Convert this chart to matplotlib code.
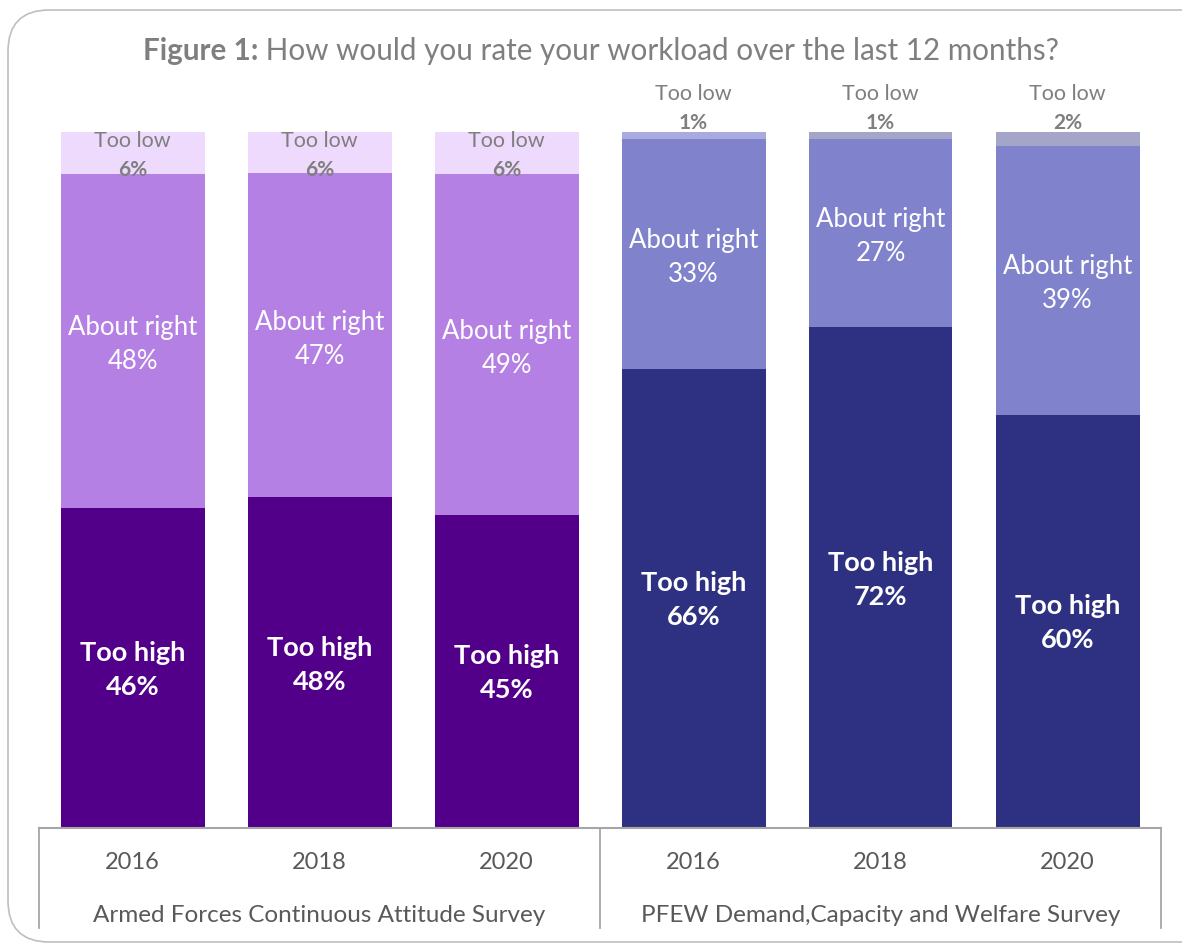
import numpy as np
import matplotlib
matplotlib.use('Agg')
import matplotlib.pyplot as plt
from matplotlib.patches import FancyBboxPatch
from matplotlib.lines import Line2D

plt.rcParams['font.family'] = ['Lato', 'DejaVu Sans']

#chart data
groups = ['Armed Forces Continuous Attitude Survey', 'PFEW Demand,Capacity and Welfare Survey']
years = ['2016', '2018', '2020', '2016', '2018', '2020']
too_high = [46, 48, 45, 66, 72, 60]
about_right = [48, 47, 49, 33, 27, 39]
too_low = [6, 6, 6, 1, 1, 2]

#colours per bar
high_col = ['#52008A'] * 3 + ['#2E3181'] * 3
about_col = ['#B580E3'] * 3 + ['#8083CC'] * 3
low_col = ['#EEDAFC'] * 3 + ['#A9ABE0', '#A5A5C8', '#A5A5C8']

gray = '#7F7F7F'
W, H = 1182, 951
fig = plt.figure(figsize=(W / 100, H / 100), dpi=100)

#rounded frame round the whole chart
frame = FancyBboxPatch((8 / W, 9 / H), 1.2, 932 / H, boxstyle='round,pad=0,rounding_size=0.035',
                       transform=fig.transFigure, fc='none', ec='#BFBFBF', lw=1.2, mutation_aspect=W / H)
fig.patches.append(frame)

ax = fig.add_axes([39 / W, 1 - 828 / H, 1122 / W, 696 / H])
ax.set_xlim(-0.5, 5.5)
ax.set_ylim(0, 100)
ax.axis('off')

#100% stacked bars
x = np.arange(len(years))
tot = np.array(too_high) + np.array(about_right) + np.array(too_low)
h = np.array(too_high) / tot * 100
a = np.array(about_right) / tot * 100
l = np.array(too_low) / tot * 100
bw = 144 / 187
ax.bar(x, h, bw, color=high_col)
ax.bar(x, a, bw, bottom=h, color=about_col)
ax.bar(x, l, bw, bottom=h + a, color=low_col)

for i in range(len(x)):
    ax.text(x[i], h[i] / 2 - 0.3, 'Too high\n%d%%' % too_high[i], ha='center', va='center',
            color='white', fontsize=19.5, fontweight='bold', linespacing=1.5)
    ax.text(x[i], h[i] + a[i] / 2 - 0.55, 'About right\n%d%%' % about_right[i], ha='center', va='center',
            color='white', fontsize=18.5, linespacing=1.45)
    if i < 3:
        ly = h[i] + a[i] + l[i] / 2 - 0.35
    else:
        ly = 103.4
    ax.text(x[i], ly + 2.0, 'Too low', ha='center', va='center', color=gray, fontsize=15.5, clip_on=False)
    ax.text(x[i], ly - 2.1, '%d%%' % too_low[i], ha='center', va='center', color=gray,
            fontsize=15, fontweight='bold', clip_on=False)

#category axis with group separators
lc = '#A6A6A6'
for xp in [39, 600, 1161]:
    fig.add_artist(Line2D([xp / W, xp / W], [1 - 828 / H, 1 - 928 / H], color=lc, lw=1.3))
fig.add_artist(Line2D([39 / W, 1161 / W], [1 - 828 / H, 1 - 828 / H], color=lc, lw=1.5))
for i, yr in enumerate(years):
    ax.text(x[i], -4.9, yr, ha='center', va='center', color='#595959', fontsize=17, clip_on=False)
for g, name in enumerate(groups):
    ax.text(1 + 3 * g, -12.6, name, ha='center', va='center', color='#595959', fontsize=17.5, clip_on=False)

#title: bold prefix plus regular text, centred together
t1 = fig.text(0, 1 - 51 / H, 'Figure 1:', fontsize=21.3, fontweight='bold', color=gray, va='center')
t2 = fig.text(0, 1 - 51 / H, ' How would you rate your workload over the last 12 months?', fontsize=21.3,
              color=gray, va='center')
fig.canvas.draw()
r = fig.canvas.get_renderer()
w1 = t1.get_window_extent(r).width
w2 = t2.get_window_extent(r).width
x0 = 601 - (w1 + w2) / 2
t1.set_x(x0 / W)
t2.set_x((x0 + w1) / W)

fig.savefig('out.png', dpi=100)
